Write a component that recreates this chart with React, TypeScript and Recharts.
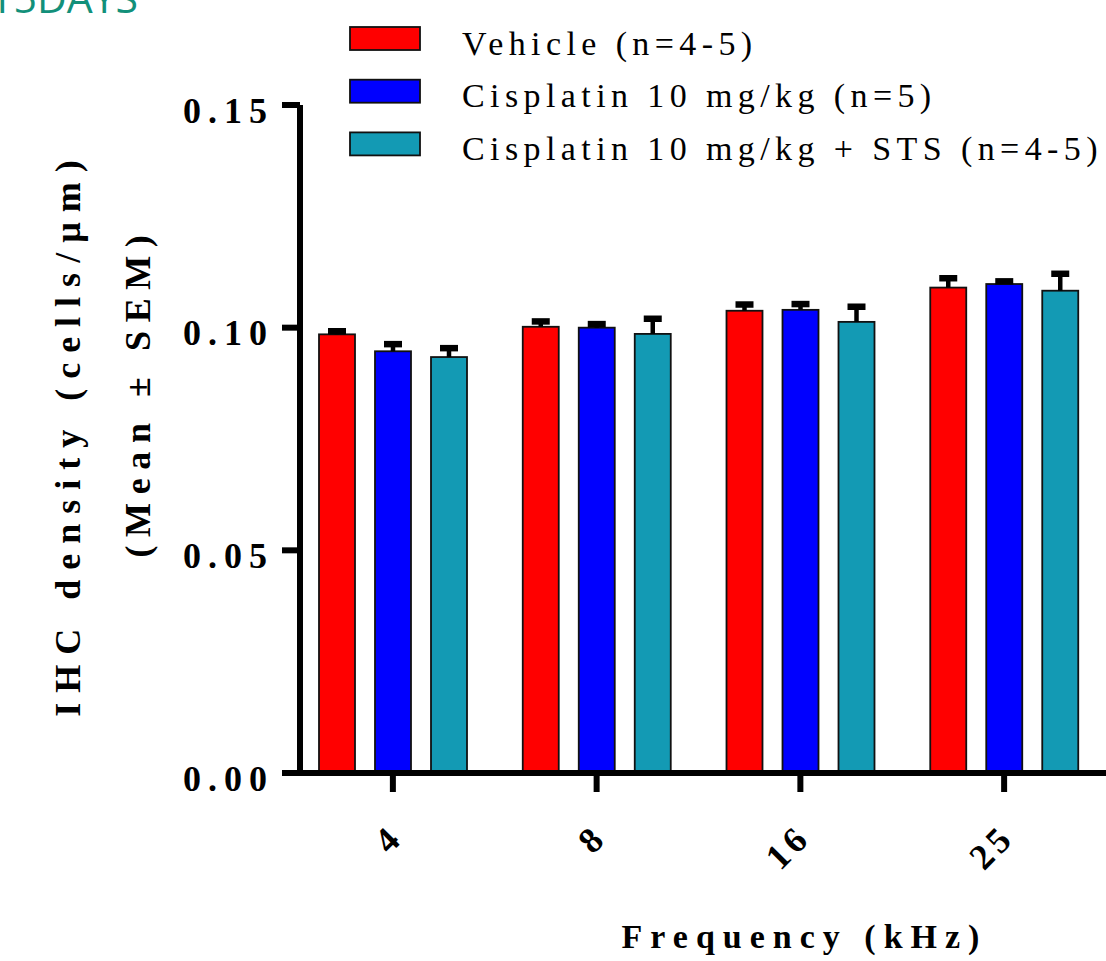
import React from 'react';
import { BarChart, Bar, XAxis, YAxis, Legend } from 'recharts';

const categories = ['4', '8', '16', '25'];
const vehicleMean = [0.0985, 0.1002, 0.1038, 0.109];
const vehicleSem = [0.0007, 0.0012, 0.0014, 0.0021];
const cisMean = [0.0947, 0.1, 0.104, 0.1098];
const cisSem = [0.0016, 0.0008, 0.0013, 0.0006];
const stsMean = [0.0934, 0.0986, 0.1013, 0.1083];
const stsSem = [0.002, 0.0034, 0.0034, 0.0038];

const seriesKeys = ['vehicle', 'cis', 'sts'];
const seriesNames = ['Vehicle (n=4-5)', 'Cisplatin 10 mg/kg (n=5)', 'Cisplatin 10 mg/kg + STS (n=4-5)'];
const seriesColors = ['#ff0000', '#0000ff', '#139ab4'];

const yTicks = [0, 0.05, 0.1, 0.15];
const yTickLabels = ['0.00', '0.05', '0.10', '0.15'];

const titleText = 'T5DAYS';
const xTitle = 'Frequency (kHz)';
const yTitleLine1 = 'IHC density (cells/µm)';
const yTitleLine2 = '(Mean ± SEM)';

const data = categories.map((c, i) => ({
  freq: c,
  vehicle: vehicleMean[i],
  vehicleErr: vehicleSem[i],
  cis: cisMean[i],
  cisErr: cisSem[i],
  sts: stsMean[i],
  stsErr: stsSem[i],
}));

const SERIF = '"Liberation Serif", "Times New Roman", serif';

function makeShape(key: string) {
  return (props: any) => {
    const { x, y, width, height, fill, payload } = props;
    const mean = payload[key];
    const err = payload[key + 'Err'];
    const pxPerUnit = mean ? height / mean : 0;
    const errPx = err * pxPerUnit;
    const xMid = x + width / 2;
    const capY = y - errPx;
    return (
      <g>
        <rect x={x} y={y} width={width} height={height} fill={fill} stroke="#111" strokeWidth={1.8} />
        <line x1={xMid} y1={y} x2={xMid} y2={capY} stroke="#000" strokeWidth={4.5} />
        <line x1={xMid - 9} y1={capY} x2={xMid + 9} y2={capY} stroke="#000" strokeWidth={6.5} />
      </g>
    );
  };
}

const YTick = (props: any) => {
  const { x, y, payload } = props;
  const idx = yTicks.indexOf(payload.value);
  return (
    <text
      x={x + 6}
      y={y + 5}
      dy="0.35em"
      textAnchor="end"
      style={{ fontFamily: SERIF }}
      fontWeight="bold"
      fontSize={36}
      letterSpacing={7}
      fill="#000"
    >
      {idx >= 0 ? yTickLabels[idx] : payload.value}
    </text>
  );
};

const XTick = (props: any) => {
  const { x, y, payload } = props;
  const ax = x + 12.5;
  const ay = y + 45;
  return (
    <text
      x={ax}
      y={ay}
      transform={`rotate(-45, ${ax}, ${ay})`}
      textAnchor="end"
      style={{ fontFamily: SERIF }}
      fontWeight="bold"
      fontSize={36}
      letterSpacing={5}
      fill="#000"
    >
      {payload.value}
    </text>
  );
};

const LegendContent = () => {
  return (
    <svg width={1106} height={175} style={{ position: 'absolute', left: 0, top: 0, overflow: 'visible' }}>
      {seriesNames.map((name, i) => {
        const top = 27 + i * 52.7;
        return (
          <g key={i}>
            <rect x={350} y={top} width={70} height={23} fill={seriesColors[i]} stroke="#111" strokeWidth={1.8} />
            <text
              x={462}
              y={top + 27.5}
              style={{ fontFamily: SERIF }}
              fontSize={34}
              letterSpacing={5.4}
              fill="#000"
            >
              {name}
            </text>
          </g>
        );
      })}
    </svg>
  );
};

export default function App() {
  return (
    <div style={{ position: 'absolute', left: 0, top: 0, width: 1106, height: 961, background: '#fff', overflow: 'hidden' }}>
      <svg width={300} height={40} style={{ position: 'absolute', left: 0, top: 0 }}>
        <text x={-9} y={13} style={{ fontFamily: '"Open Sans", "Noto Sans", sans-serif' }} fontSize={41} fill="#12907a">
          {titleText}
        </text>
      </svg>
      <BarChart
        width={1106}
        height={961}
        data={data}
        margin={{ top: 105, right: 0, bottom: 88, left: 200 }}
        barSize={36}
        barGap={20}
      >
        <XAxis
          dataKey="freq"
          height={100}
          padding={{ left: -9, right: 0 }}
          axisLine={{ stroke: '#000', strokeWidth: 6 }}
          tickLine={{ stroke: '#000', strokeWidth: 6 }}
          tickSize={19}
          tickMargin={2}
          tick={<XTick />}
          interval={0}
          label={{
            content: () => (
              <text
                x={804.5}
                y={948}
                textAnchor="middle"
                style={{ fontFamily: SERIF }}
                fontWeight="bold"
                fontSize={34}
                letterSpacing={8}
                fill="#000"
              >
                {xTitle}
              </text>
            ),
          }}
        />
        <YAxis
          width={100}
          domain={[0, 0.15]}
          ticks={yTicks}
          interval={0}
          axisLine={{ stroke: '#000', strokeWidth: 6 }}
          tickLine={{ stroke: '#000', strokeWidth: 6 }}
          tickSize={18}
          tickMargin={14}
          tick={<YTick />}
          label={{
            content: () => (
              <g>
                <text
                  x={80}
                  y={433.5}
                  transform="rotate(-90, 80, 433.5)"
                  textAnchor="middle"
                  style={{ fontFamily: SERIF }}
                  fontWeight="bold"
                  fontSize={36}
                  letterSpacing={10}
                  fill="#000"
                >
                  {yTitleLine1}
                </text>
                <text
                  x={150}
                  y={392}
                  transform="rotate(-90, 150, 392)"
                  textAnchor="middle"
                  style={{ fontFamily: SERIF }}
                  fontWeight="bold"
                  fontSize={36}
                  letterSpacing={8.6}
                  fill="#000"
                >
                  {yTitleLine2}
                </text>
              </g>
            ),
          }}
        />
        <Legend
          layout="vertical"
          verticalAlign="middle"
          align="center"
          content={<LegendContent />}
          wrapperStyle={{ position: 'absolute', left: 0, top: 0, width: 0, height: 0, overflow: 'visible' }}
        />
        {seriesKeys.map((k, i) => (
          <Bar
            key={k}
            dataKey={k}
            name={seriesNames[i]}
            fill={seriesColors[i]}
            isAnimationActive={false}
            shape={makeShape(k)}
          />
        ))}
      </BarChart>
    </div>
  );
}
